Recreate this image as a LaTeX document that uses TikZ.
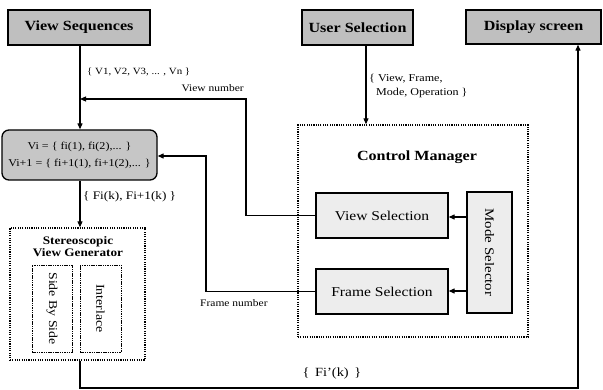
\documentclass[tikz,border=0pt]{standalone}
\usepackage{fontspec}
\setmainfont{Liberation Serif}[FakeStretch=1.15]
\usetikzlibrary{arrows.meta,calc}

\tikzset{
  head/.style={draw=black, line width=1.3pt, fill=gray!50, inner sep=0pt,
    font=\fontsize{14}{16}\selectfont\bfseries},
  selbox/.style={draw=black, line width=1.3pt, fill=gray!14, inner sep=0pt,
    font=\fontsize{13.5}{16}\selectfont},
  group/.style={draw=black, line width=1.4pt, dash pattern=on 1.1pt off 1.2pt},
  subbox/.style={draw=black, line width=0.7pt, dash pattern=on 1.5pt off 0.8pt, inner sep=0pt},
  link/.style={draw=black, line width=1.1pt},
  tip/.style={-{Triangle[length=6pt,width=5pt]}},
  lbl/.style={inner sep=0pt, font=\fontsize{10}{11}\selectfont},
}

\begin{document}
\begin{tikzpicture}[x=1pt,y=-1pt]
\useasboundingbox (0,0) rectangle (603,390);
\fill[white] (0,0) rectangle (603,390);

% top row of sources and sink
\node[head, minimum width=142pt, minimum height=35pt] (vs) at (79,27.5) {View Sequences};
\node[head, minimum width=111pt, minimum height=35pt] (us) at (357.5,27.5) {User Selection};
\node[head, minimum width=135pt, minimum height=34pt] (ds) at (533.5,27) {Display screen};

% current pair of views
\node[draw=black, line width=1.3pt, fill=gray!45, rounded corners=7pt,
      minimum width=155pt, minimum height=50pt, inner sep=0pt, align=center,
      font=\fontsize{10.5}{17}\selectfont] (vi) at (79.5,155)
      {Vi = \{ fi(1), fi(2),... \}\\Vi+1 = \{ fi+1(1), fi+1(2),... \}};

% control manager group
\node[group, minimum width=230pt, minimum height=212pt, inner sep=0pt] (cm) at (413,231) {};
\node[inner sep=0pt, font=\fontsize{14}{16}\selectfont\bfseries] (cmt) at (417,157) {Control Manager};
\node[selbox, minimum width=132pt, minimum height=45pt] (vsel) at (382,215.5) {View Selection};
\node[selbox, minimum width=132pt, minimum height=45pt] (fsel) at (382,291.5) {Frame Selection};
\node[selbox, minimum width=45pt, minimum height=121pt] (msel) at (489.5,252.5) {};
\node[inner sep=0pt, rotate=-90, font=\fontsize{13}{16}\selectfont] (mselt) at (msel.center) {Mode Selector};

% stereoscopic view generator group
\node[group, minimum width=135pt, minimum height=132pt, inner sep=0pt] (svg) at (77.5,294) {};
\node[inner sep=0pt, align=center, font=\fontsize{11.5}{12}\selectfont\bfseries] (svgt) at (78,247)
      {Stereoscopic\\View Generator};
\node[subbox, minimum width=40pt, minimum height=87pt] (sbs) at (52,308.5) {};
\node[inner sep=0pt, rotate=-90, font=\fontsize{12}{13}\selectfont] (sbst) at (sbs.center) {Side By Side};
\node[subbox, minimum width=41pt, minimum height=87pt] (il) at (100.5,308.5) {};
\node[inner sep=0pt, rotate=-90, font=\fontsize{12}{13}\selectfont] (ilt) at (il.center) {Interlace};

% connectors
\draw[link, tip] (vs.south -| 80,0) -- (vi.north -| 80,0);
\draw[link, tip] (us.south -| 366,0) -- (cm.north -| 366,0);
\draw[link, tip] (vi.south -| 80,0) -- (svg.north -| 80,0);

\coordinate (vnA) at (246,215.5);
\coordinate (vnB) at (246,99);
\coordinate (vnC) at (80,99);
\draw[link, tip] (vsel.west) -- (vnA) -- (vnB) -- (vnC);

\coordinate (fnA) at (206,291.5);
\coordinate (fnB) at (206,156);
\draw[link, tip] (fsel.west) -- (fnA) -- (fnB) -- (fnB -| vi.east);

\draw[link, tip] (msel.west |- 0,217) -- (vsel.east |- 0,217);
\draw[link, tip] (msel.west |- 0,291) -- (fsel.east |- 0,291);

\coordinate (outA) at (80,388);
\coordinate (outB) at (578,388);
\draw[link, tip] (svg.south -| 80,0) -- (outA) -- (outB) -- (outB |- ds.south);

% connector labels
\node[lbl, anchor=west, font=\fontsize{9.5}{10}\selectfont] (lv) at (87,72) {\{ V1, V2, V3, ... , Vn \}};
\node[lbl, anchor=east, font=\fontsize{10}{11}\selectfont] (lvn) at (244,88) {View number};
\node[lbl, anchor=north west, align=left, font=\fontsize{10.5}{14}\selectfont] (lus) at (369,74)
      {\{ View, Frame,\\\hspace*{7pt}Mode, Operation \}};
\node[lbl, anchor=west, font=\fontsize{11.5}{12}\selectfont] (lf) at (83,197) {\{ Fi(k), Fi+1(k) \}};
\node[lbl, anchor=west, font=\fontsize{10}{11}\selectfont] (lfn) at (200,303) {Frame number};
\node[lbl, font=\fontsize{12.5}{13}\selectfont] (lo) at (332,373) {\{\, Fi'(k) \,\}};
\end{tikzpicture}
\end{document}
